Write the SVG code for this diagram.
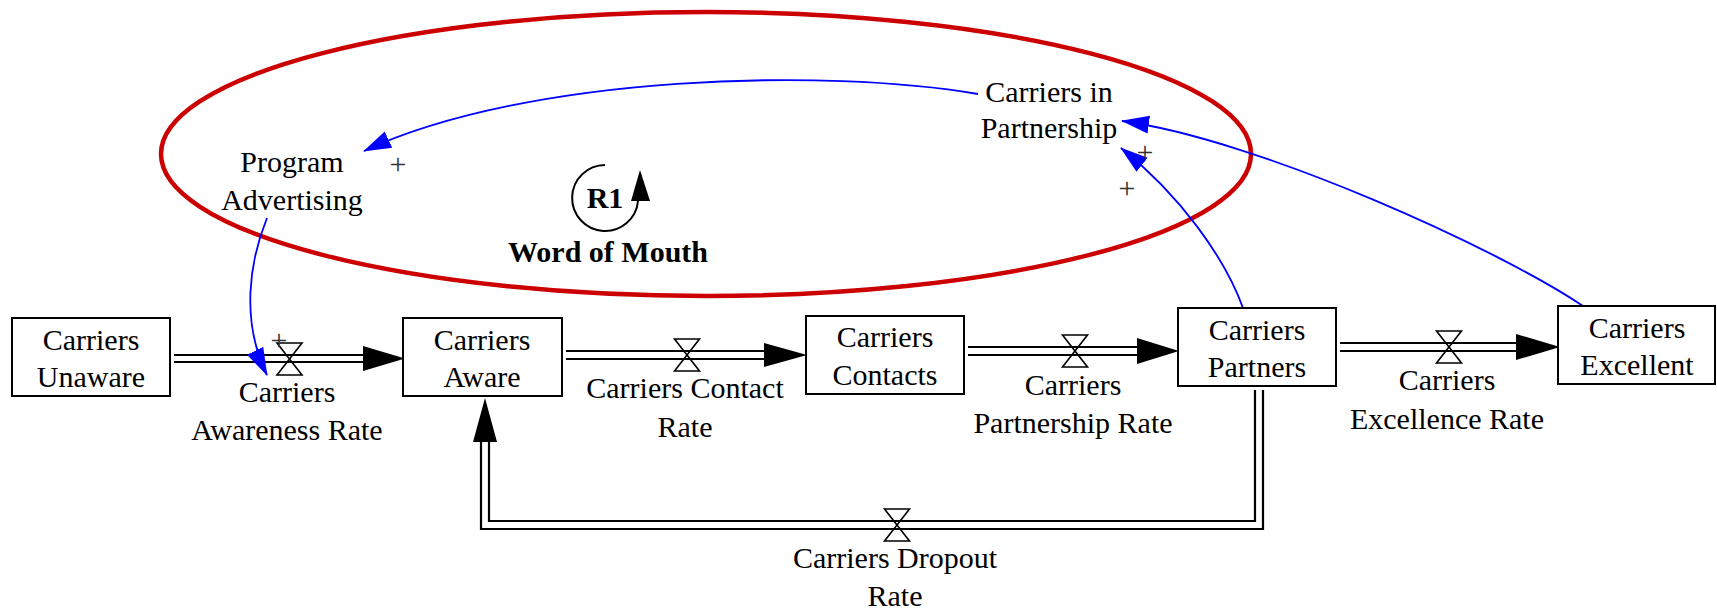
<svg xmlns="http://www.w3.org/2000/svg" width="1717" height="610" viewBox="0 0 1717 610">
  <style>
    .lbl { font-family: "Liberation Serif", "Times New Roman", serif; font-size: 30px; fill: #000; text-anchor: middle; }
    .bold { font-weight: bold; }
    .sign { font-family: "Liberation Serif", "Times New Roman", serif; font-size: 30px; fill: #333; text-anchor: middle; }
    .stock { fill: #fff; stroke: #000; stroke-width: 2; }
    .pipe { fill: none; stroke: #000; stroke-width: 2.2; }
    .head { fill: #000; stroke: none; }
    .valve { fill: none; stroke: #000; stroke-width: 1.6; }
    .link { fill: none; stroke: #0000ff; stroke-width: 1.8; marker-end: url(#blueHead); }
    .loop { fill: none; stroke: #cc0000; stroke-width: 4.5; }
  </style>
  <defs>
    <marker id="blueHead" markerUnits="userSpaceOnUse" markerWidth="28" markerHeight="20" viewBox="0 0 28 20" refX="27" refY="10" orient="auto">
      <path d="M0,1 L28,10 L0,19 Z" fill="#0000ff"/>
    </marker>
    <path id="valveShape" d="M-12.5,-16 H12.5 L-12.5,16 H12.5 Z"/>
  </defs>

  <rect width="1717" height="610" fill="#fff"/>

  <!-- reinforcing loop outline -->
  <ellipse class="loop" cx="706" cy="154" rx="545" ry="142"/>

  <!-- material flows and information links -->
  <g id="connectors">
    <!-- awareness flow -->
    <line class="pipe" x1="174" y1="355" x2="364" y2="355"/>
    <line class="pipe" x1="174" y1="362" x2="364" y2="362"/>
    <polygon class="head" points="363,346 405,358.5 363,371"/>
    <use href="#valveShape" class="valve" x="289.5" y="359"/>
    <!-- contact flow -->
    <line class="pipe" x1="566" y1="351" x2="765" y2="351"/>
    <line class="pipe" x1="566" y1="359" x2="765" y2="359"/>
    <polygon class="head" points="764,343 807,355 764,367"/>
    <use href="#valveShape" class="valve" x="687" y="355"/>
    <!-- partnership flow -->
    <line class="pipe" x1="968" y1="347" x2="1138" y2="347"/>
    <line class="pipe" x1="968" y1="355" x2="1138" y2="355"/>
    <polygon class="head" points="1137,338 1179,351 1137,364"/>
    <use href="#valveShape" class="valve" x="1075" y="351"/>
    <!-- excellence flow -->
    <line class="pipe" x1="1340" y1="343" x2="1517" y2="343"/>
    <line class="pipe" x1="1340" y1="351" x2="1517" y2="351"/>
    <polygon class="head" points="1516,334 1560,347 1516,360"/>
    <use href="#valveShape" class="valve" x="1449" y="347"/>
    <!-- dropout flow back to aware -->
    <path class="pipe" d="M1263,390 V529 H481 V441"/>
    <path class="pipe" d="M1255,390 V521 H489 V441"/>
    <polygon class="head" points="485,398 497,442 473,442"/>
    <use href="#valveShape" class="valve" x="897" y="525"/>

    <!-- causal links -->
    <path class="link" d="M978,94 C828,68 530,74 364,151"/>
    <path class="link" d="M1583,306 C1500,250 1260,140 1122,121"/>
    <path class="link" d="M1243,308 C1225,258 1180,195 1121,148"/>
    <path class="link" d="M267,218 C250,260 240,320 267,375"/>

    <!-- link polarities -->
    <text class="sign" x="398" y="174">+</text>
    <text class="sign" x="1145" y="162">+</text>
    <text class="sign" x="1127" y="198">+</text>
    <text class="sign" x="279" y="350">+</text>
  </g>

  <!-- loop marker -->
  <g id="loop-r1">
    <path d="M605,165 A33,33 0 1 0 638,201" fill="none" stroke="#000" stroke-width="2"/>
    <polygon class="head" points="640,170 650,201 631,201"/>
    <text class="lbl bold" x="605" y="208">R1</text>
    <text class="lbl bold" x="608" y="262">Word of Mouth</text>
  </g>

  <!-- stocks -->
  <g id="carriers-unaware">
    <rect class="stock" x="12" y="318" width="158" height="78"/>
    <text class="lbl" x="91" y="350">Carriers</text>
    <text class="lbl" x="91" y="387">Unaware</text>
  </g>
  <g id="carriers-aware">
    <rect class="stock" x="403" y="318" width="159" height="78"/>
    <text class="lbl" x="482" y="350">Carriers</text>
    <text class="lbl" x="482" y="387">Aware</text>
  </g>
  <g id="carriers-contacts">
    <rect class="stock" x="806" y="316" width="158" height="78"/>
    <text class="lbl" x="885" y="347">Carriers</text>
    <text class="lbl" x="885" y="385">Contacts</text>
  </g>
  <g id="carriers-partners">
    <rect class="stock" x="1178" y="308" width="158" height="78"/>
    <text class="lbl" x="1257" y="340">Carriers</text>
    <text class="lbl" x="1257" y="377">Partners</text>
  </g>
  <g id="carriers-excellent">
    <rect class="stock" x="1558" y="306" width="157" height="78"/>
    <text class="lbl" x="1637" y="338">Carriers</text>
    <text class="lbl" x="1637" y="375">Excellent</text>
  </g>

  <!-- rates -->
  <g id="awareness-rate">
    <text class="lbl" x="287" y="402">Carriers</text>
    <text class="lbl" x="287" y="440">Awareness Rate</text>
  </g>
  <g id="contact-rate">
    <text class="lbl" x="685" y="398">Carriers Contact</text>
    <text class="lbl" x="685" y="437">Rate</text>
  </g>
  <g id="partnership-rate">
    <text class="lbl" x="1073" y="395">Carriers</text>
    <text class="lbl" x="1073" y="433">Partnership Rate</text>
  </g>
  <g id="excellence-rate">
    <text class="lbl" x="1447" y="390">Carriers</text>
    <text class="lbl" x="1447" y="429">Excellence Rate</text>
  </g>
  <g id="dropout-rate">
    <text class="lbl" x="895" y="568">Carriers Dropout</text>
    <text class="lbl" x="895" y="606">Rate</text>
  </g>

  <!-- auxiliaries -->
  <g id="program-advertising">
    <text class="lbl" x="292" y="172">Program</text>
    <text class="lbl" x="292" y="210">Advertising</text>
  </g>
  <g id="carriers-in-partnership">
    <text class="lbl" x="1049" y="102">Carriers in</text>
    <text class="lbl" x="1049" y="138">Partnership</text>
  </g>
</svg>
